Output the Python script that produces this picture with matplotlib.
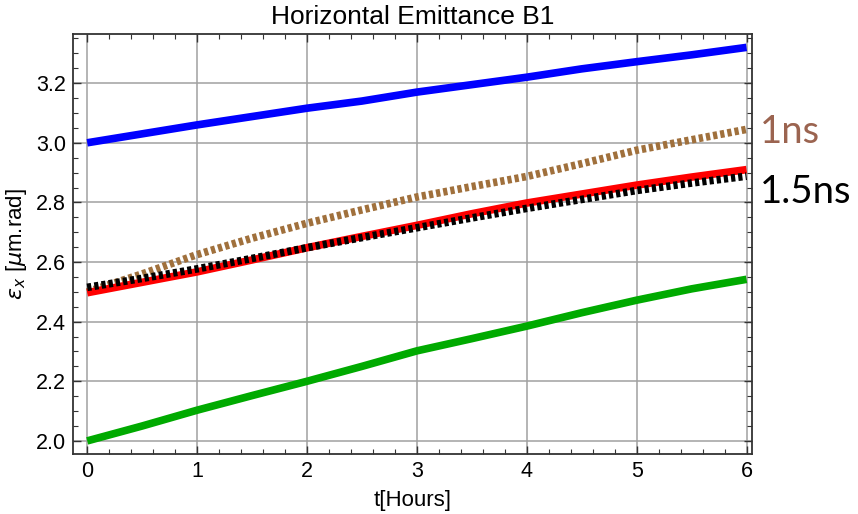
import matplotlib.pyplot as plt
from matplotlib.ticker import MultipleLocator

# time in hours
t = [0, 0.5, 1, 1.5, 2, 2.5, 3, 3.5, 4, 4.5, 5, 5.5, 6]

# horizontal emittance [um.rad]
eps_blue = [3.0, 3.03, 3.06, 3.088, 3.116, 3.14, 3.17, 3.195, 3.22, 3.248, 3.272, 3.295, 3.32]
eps_green = [2.0, 2.05, 2.103, 2.152, 2.2, 2.25, 2.302, 2.343, 2.385, 2.43, 2.472, 2.51, 2.542]
eps_red = [2.497, 2.532, 2.567, 2.607, 2.648, 2.686, 2.723, 2.762, 2.798, 2.828, 2.858, 2.885, 2.91]
eps_1ns = [2.5, 2.56, 2.625, 2.68, 2.73, 2.775, 2.818, 2.853, 2.887, 2.93, 2.975, 3.01, 3.045]
eps_15ns = [2.515, 2.545, 2.577, 2.612, 2.648, 2.682, 2.715, 2.748, 2.78, 2.81, 2.84, 2.865, 2.888]

plt.rcParams['font.family'] = ['Liberation Sans', 'DejaVu Sans']

fig = plt.figure(figsize=(8.58, 5.14), dpi=100)
ax = fig.add_axes([0.085, 0.1167, 0.7915, 0.8172])

ax.plot(t, eps_green, color='#00aa00', lw=5.5, solid_capstyle='butt', zorder=3)
ax.plot(t, eps_blue, color='#0000ff', lw=5.5, solid_capstyle='butt', zorder=3)
ax.plot(t, eps_1ns, color='#a0703c', lw=5.5, dashes=(0.55, 0.4), zorder=3)
ax.plot(t, eps_red, color='#ff0000', lw=5.5, solid_capstyle='butt', zorder=3)
ax.plot(t, eps_15ns, color='black', lw=5.5, dashes=(0.55, 0.4), zorder=4)

ax.set_xlim(-0.13, 6.05)
ax.set_ylim(1.956, 3.365)
ax.xaxis.set_major_locator(MultipleLocator(1))
ax.xaxis.set_minor_locator(MultipleLocator(0.2))
ax.yaxis.set_major_locator(MultipleLocator(0.2))
ax.yaxis.set_minor_locator(MultipleLocator(0.05))
ax.yaxis.set_major_formatter(lambda v, p: f'{v:.1f}')

ax.grid(True, which='major', color='#a0a0a0', lw=1.1)
ax.tick_params(which='both', direction='in', top=True, right=True,
               labelsize=15.5, color='#333333')
ax.tick_params(which='major', length=6, width=1, pad=5)
ax.tick_params(which='minor', length=3.5, width=0.8)
for s in ax.spines.values():
    s.set_color('#333333')
    s.set_linewidth(1.3)

ax.set_title('Horizontal Emittance B1', fontsize=19, pad=7)
ax.set_xlabel('t[Hours]', fontsize=16, labelpad=6)
ax.set_ylabel(r'$\epsilon_x$ [$\mu$m.rad]', fontsize=16, labelpad=5)

# bunch length labels on the right
fig.text(0.886, 0.722, '1ns', color='#9b6450', fontsize=27.5, family='Lato')
fig.text(0.886, 0.605, '1.5ns', color='black', fontsize=27.5, family='Lato')

fig.savefig('out.png', dpi=100)
